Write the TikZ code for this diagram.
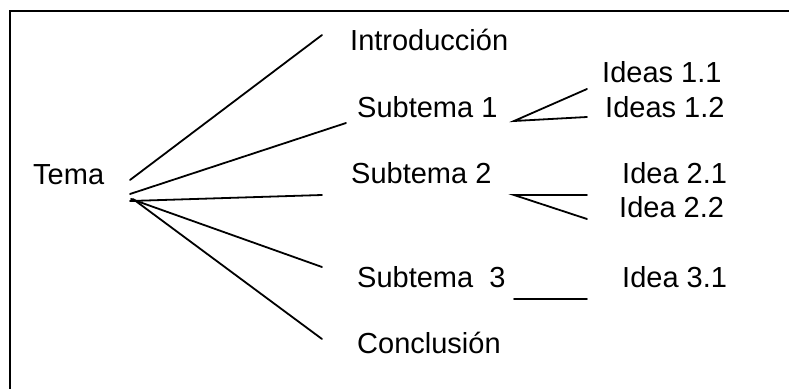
\documentclass[tikz,border=0pt]{standalone}
\usepackage{fontspec}
\setmainfont{Liberation Sans}
\begin{document}
\begin{tikzpicture}[x=1pt,y=-1pt,
  lbl/.style={anchor=base west,inner sep=0pt,font=\fontsize{29}{34}\selectfont},
  link/.style={line width=1.8pt,line cap=round}]
\useasboundingbox (0,0) rectangle (789,388);
\begin{scope}
\clip (0,0) rectangle (789,388);
\draw[line width=2pt] (10,11) rectangle (800,400);
\end{scope}
% labels
\node[lbl] (tema) at (33,184) {Tema};
\node[lbl] (intro) at (350,50) {Introducción};
\node[lbl] (sub1) at (357,117) {Subtema 1};
\node[lbl] (sub2) at (351,183) {Subtema 2};
\node[lbl] (sub3) at (357,287) {Subtema\ \ 3};
\node[lbl] (concl) at (357,353) {Conclusión};
\node[lbl] (i11) at (602,82) {Ideas 1.1};
\node[lbl] (i12) at (605,117) {Ideas 1.2};
\node[lbl] (i21) at (622,183) {Idea 2.1};
\node[lbl] (i22) at (619,217) {Idea 2.2};
\node[lbl] (i31) at (622,287) {Idea 3.1};
% endpoints
\coordinate (t1) at (130,180);
\coordinate (t2) at (130,194);
\coordinate (t3) at (130,201);
\coordinate (t4) at (131,199);
\coordinate (t5) at (133,199);
\coordinate (e1) at (322,35);
\coordinate (e2) at (346,123);
\coordinate (e3) at (322,195);
\coordinate (e4) at (322,267);
\coordinate (e5) at (322,339);
\coordinate (s1) at (514,121);
\coordinate (a11) at (587,89);
\coordinate (a12) at (587,117);
\coordinate (s2) at (514,195);
\coordinate (a21) at (587,195);
\coordinate (a22) at (587,219);
\coordinate (s3) at (514,299);
\coordinate (a31) at (587,299);
% connectors
\draw[link] (t1) -- (e1);
\draw[link] (t2) -- (e2);
\draw[link] (t3) -- (e3);
\draw[link] (t4) -- (e4);
\draw[link] (t5) -- (e5);
\draw[link] (a11) -- (s1) -- (a12);
\draw[link] (a21) -- (s2) -- (a22);
\draw[link] (s3) -- (a31);
\end{tikzpicture}
\end{document}
